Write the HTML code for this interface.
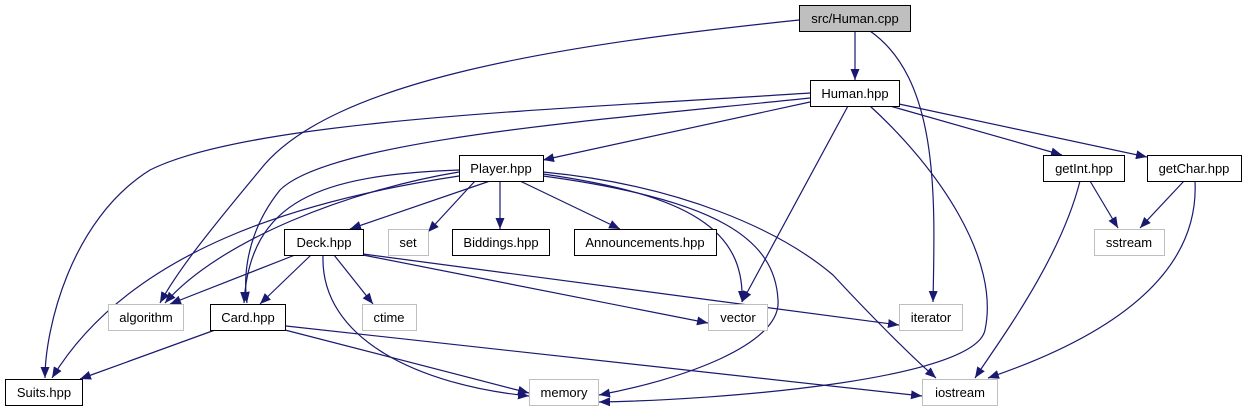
<!DOCTYPE html>
<html><head><meta charset="utf-8"><style>
body{margin:0;background:#fff;width:1247px;height:411px;overflow:hidden}
text{font-family:"Liberation Sans",Arial,sans-serif;font-size:13px;text-anchor:middle;fill:#000}
.e{fill:none;stroke:#191970;stroke-width:1.2}
</style></head><body>
<svg width="1247" height="411" xmlns="http://www.w3.org/2000/svg">
<defs><marker id="a" viewBox="0 0 11 9" refX="11" refY="4.5" markerWidth="11" markerHeight="9" markerUnits="userSpaceOnUse" orient="auto"><path d="M0,0L11,4.5L0,9z" fill="#191970"/></marker></defs>
<g class="e" marker-end="url(#a)">
<path d="M855,31L855,80"/>
<path d="M799,20C560,45 330,80 260,170C210,230 178,270 160,303"/>
<path d="M870,31C940,80 935,200 933,302"/>
<path d="M810,102L543,160"/>
<path d="M810,93C550,110 250,120 150,170C70,220 45,330 45,378"/>
<path d="M810,98C600,120 330,140 280,190C240,240 245,290 247,303"/>
<path d="M848,106L742,302"/>
<path d="M870,106C940,170 1000,260 985,330C975,380 720,400 599,402"/>
<path d="M890,106L1062,155"/>
<path d="M899,104L1147,157"/>
<path d="M1090,181L1118,228"/>
<path d="M1080,181C1060,260 1000,340 975,378"/>
<path d="M1184,181L1140,228"/>
<path d="M1195,181C1200,280 1100,340 988,378"/>
<path d="M490,181L350,229"/>
<path d="M475,181L428,232"/>
<path d="M500,181L500,229"/>
<path d="M520,181L620,229"/>
<path d="M459,172C350,190 220,240 165,303"/>
<path d="M459,176C300,200 130,250 52,378"/>
<path d="M459,170C320,175 250,200 244,303"/>
<path d="M543,174C690,195 745,230 742,302"/>
<path d="M543,176C720,200 775,240 778,300C782,345 680,380 599,395"/>
<path d="M543,172C680,185 780,230 833,275C870,315 910,355 936,378"/>
<path d="M295,255L170,304"/>
<path d="M311,255L260,304"/>
<path d="M334,255L373,304"/>
<path d="M323,255C320,340 420,385 529,396"/>
<path d="M363,255L708,323"/>
<path d="M363,254L899,325"/>
<path d="M215,330L80,379"/>
<path d="M285,330L529,393"/>
<path d="M286,326L922,396"/>
</g>
<g stroke-width="1">
<rect x="799.5" y="5.5" width="111" height="26" fill="#bfbfbf" stroke="#000"/><text x="855" y="23">src/Human.cpp</text>
<rect x="810.5" y="80.5" width="89" height="26" fill="#fff" stroke="#000"/><text x="855" y="98">Human.hpp</text>
<rect x="459.5" y="155.5" width="84" height="26" fill="#fff" stroke="#000"/><text x="501" y="173">Player.hpp</text>
<rect x="1043.5" y="155.5" width="81" height="26" fill="#fff" stroke="#000"/><text x="1084" y="173">getInt.hpp</text>
<rect x="1147.5" y="155.5" width="94" height="26" fill="#fff" stroke="#000"/><text x="1194" y="173">getChar.hpp</text>
<rect x="284.5" y="229.5" width="79" height="26" fill="#fff" stroke="#000"/><text x="324" y="247">Deck.hpp</text>
<rect x="388.5" y="229.5" width="40" height="26" fill="#fff" stroke="#bfbfbf"/><text x="408" y="247">set</text>
<rect x="452.5" y="229.5" width="97" height="26" fill="#fff" stroke="#000"/><text x="501" y="247">Biddings.hpp</text>
<rect x="574.5" y="229.5" width="142" height="26" fill="#fff" stroke="#000"/><text x="645" y="247">Announcements.hpp</text>
<rect x="1094.5" y="229.5" width="70" height="26" fill="#fff" stroke="#bfbfbf"/><text x="1129" y="247">sstream</text>
<rect x="108.5" y="304.5" width="75" height="26" fill="#fff" stroke="#bfbfbf"/><text x="146" y="322">algorithm</text>
<rect x="210.5" y="304.5" width="75" height="26" fill="#fff" stroke="#000"/><text x="248" y="322">Card.hpp</text>
<rect x="362.5" y="304.5" width="54" height="26" fill="#fff" stroke="#bfbfbf"/><text x="389" y="322">ctime</text>
<rect x="708.5" y="304.5" width="59" height="26" fill="#fff" stroke="#bfbfbf"/><text x="738" y="322">vector</text>
<rect x="899.5" y="304.5" width="63" height="26" fill="#fff" stroke="#bfbfbf"/><text x="931" y="322">iterator</text>
<rect x="5.5" y="379.5" width="77" height="26" fill="#fff" stroke="#000"/><text x="44" y="397">Suits.hpp</text>
<rect x="529.5" y="379.5" width="69" height="26" fill="#fff" stroke="#bfbfbf"/><text x="564" y="397">memory</text>
<rect x="922.5" y="379.5" width="75" height="26" fill="#fff" stroke="#bfbfbf"/><text x="960" y="397">iostream</text>
</g>
</svg>
</body></html>
